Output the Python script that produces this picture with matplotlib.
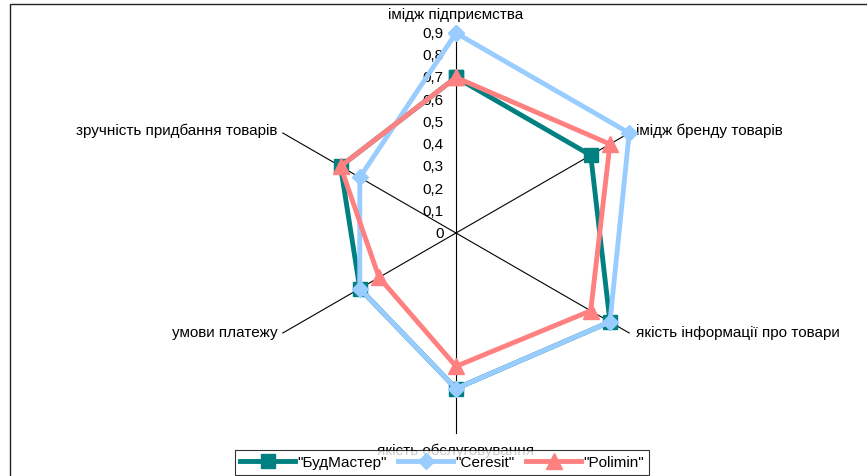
import numpy as np
import matplotlib
matplotlib.use('Agg')
import matplotlib.pyplot as plt
from matplotlib.patches import Rectangle

plt.rcParams['font.family'] = ['Liberation Sans', 'DejaVu Sans']

categories = ['імідж підприємства', 'імідж бренду товарів', 'якість інформації про товари',
              'якість обслуговування', 'умови платежу', 'зручність придбання товарів']
budmaster = [0.7, 0.7, 0.8, 0.7, 0.5, 0.6]
ceresit = [0.9, 0.9, 0.8, 0.7, 0.5, 0.5]
polimin = [0.7, 0.8, 0.7, 0.6, 0.4, 0.6]
ticks = [0, 0.1, 0.2, 0.3, 0.4, 0.5, 0.6, 0.7, 0.8, 0.9]

W, H = 867, 477
fig = plt.figure(figsize=(W / 100, H / 100), dpi=100)

# centre of the radar at (456, 234) px, radius 200 px for 0.9
cx, cy, R = 456, 234, 200
ax = fig.add_axes([(cx - R) / W, (H - cy - R) / H, 2 * R / W, 2 * R / H], projection='polar')
ax.set_theta_offset(np.pi / 2)
ax.set_theta_direction(-1)
ax.set_ylim(0, 0.9)
ax.grid(False)
ax.set_xticks([])
ax.set_yticks([])
ax.spines['polar'].set_visible(False)
ax.patch.set_alpha(0)

n = len(categories)
angles = np.arange(n) * 2 * np.pi / n

for a in angles:
    ax.plot([a, a], [0, 0.9], color='black', lw=0.8, clip_on=False, zorder=1)

fs = 11
# category labels (the bottom one sits partly under the legend, as in the original)
offsets = [(0, 14, 'center', 'center'), (5, 2, 'left', 'center'), (5, 1, 'left', 'center'),
           (0, -12, 'center', 'center'), (-4, 1, 'right', 'center'), (-4, 2, 'right', 'center')]
for a, lab, (dx, dy, ha, va) in zip(angles, categories, offsets):
    ax.annotate(lab, xy=(a, 0.9), xytext=(dx, dy), textcoords='offset points',
                ha=ha, va=va, fontsize=fs, color='black', zorder=0)

# radial tick labels along top axis
for t in ticks:
    ax.annotate(('%g' % t).replace('.', ','), xy=(0, t), xytext=(-9, 0), textcoords='offset points',
                ha='right', va='center', fontsize=fs, color='black', zorder=0)

theta = np.append(angles, angles[0])
series = [('"БудМастер"', budmaster, '#008080', 's', 10),
          ('"Ceresit"', ceresit, '#99CCFF', 'D', 8),
          ('"Polimin"', polimin, '#FF8080', '^', 11)]
for name, vals, col, mk, ms in series:
    ax.plot(theta, np.append(vals, vals[0]), color=col, lw=3.5, marker=mk, markersize=ms,
            markeredgecolor=col, label=name, clip_on=False, zorder=3)

leg = fig.legend(loc='upper center', bbox_to_anchor=(442 / W, (H - 451) / H), ncol=3,
                 fontsize=fs, frameon=True, fancybox=False, edgecolor='black', borderaxespad=0,
                 handlelength=3.6, handletextpad=0.1, columnspacing=0.8, borderpad=0.35)
leg.get_frame().set_linewidth(0.8)
leg.set_zorder(5)

# chart area border (cut off at the right and bottom)
fig.add_artist(Rectangle((10 / W, -0.5), 2, 1.5 - 5 / H, transform=fig.transFigure,
                         fill=False, edgecolor='#222222', lw=1.0))

fig.savefig('out.png', dpi=100)
